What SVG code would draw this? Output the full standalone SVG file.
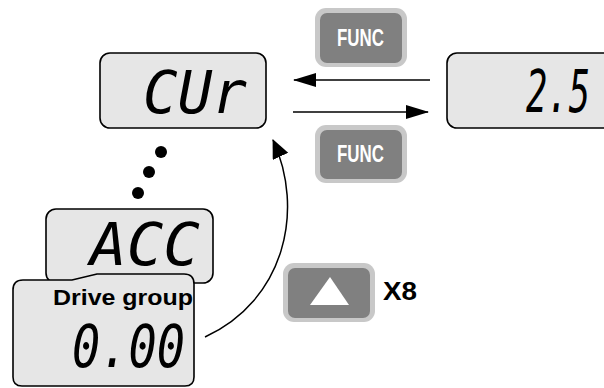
<svg xmlns="http://www.w3.org/2000/svg" width="604" height="388" viewBox="0 0 604 388">
<defs>
<style>
.lcd{fill:#e6e6e6;stroke:#000;stroke-width:1.6}
.seg{font-family:"DejaVu Sans Mono",monospace;font-style:italic;font-size:59px;fill:#000}
.btnO{fill:#c8c8c8}
.btnI{fill:#808080}
.func{font-family:"Liberation Sans",Arial,sans-serif;font-weight:bold;font-size:23px;fill:#fff}
.lbl{font-family:"Liberation Sans",Arial,sans-serif;font-weight:bold;fill:#000}
.ln{stroke:#000;stroke-width:1.5;fill:none}
</style>
<marker id="ah" markerUnits="userSpaceOnUse" markerWidth="24" markerHeight="16" refX="22" refY="7" orient="auto">
<path d="M0,0 L23,7 L0,14 Z" fill="#000"/>
</marker>
<marker id="ah2" markerUnits="userSpaceOnUse" markerWidth="20" markerHeight="20" refX="18" refY="8.5" orient="auto">
<path d="M0,0 L19,8.5 L0,17 Z" fill="#000"/>
</marker>
</defs>
<g id="cur">
<rect class="lcd" x="100" y="53" width="166" height="75" rx="10"/>
<text class="seg" x="143" y="113" textLength="104" lengthAdjust="spacingAndGlyphs">CUr</text>
</g>
<g id="val25">
<rect class="lcd" x="447" y="53" width="170" height="75" rx="10"/>
<text class="seg" x="526" y="112" textLength="64" lengthAdjust="spacingAndGlyphs">2.5</text>
</g>
<g id="func-top">
<rect class="btnO" x="315" y="8" width="92" height="59" rx="11"/>
<rect class="btnI" x="320" y="13" width="82" height="50" rx="7"/>
<text class="func" x="337" y="46" textLength="47" lengthAdjust="spacingAndGlyphs">FUNC</text>
</g>
<g id="func-bottom">
<rect class="btnO" x="315" y="125" width="92" height="58" rx="11"/>
<rect class="btnI" x="320" y="130" width="82" height="49" rx="7"/>
<text class="func" x="337" y="162" textLength="47" lengthAdjust="spacingAndGlyphs">FUNC</text>
</g>
<g id="dots">
<circle cx="161" cy="152" r="6"/>
<circle cx="149" cy="172" r="6"/>
<circle cx="138" cy="193" r="6"/>
</g>
<g id="acc">
<rect class="lcd" x="46" y="209" width="167" height="74" rx="10"/>
<text class="seg" x="90" y="265" textLength="110" lengthAdjust="spacingAndGlyphs">ACC</text>
</g>
<g id="drive">
<path class="lcd" d="M13,290 Q13,280 23,280 L72,280 L97,274 L184,274 Q194,274 194,284 L194,377 Q194,386 185,386 L22,386 Q13,386 13,377 Z"/>
<text class="lbl" x="53" y="305" font-size="22" textLength="140" lengthAdjust="spacingAndGlyphs">Drive group</text>
<text class="seg" x="72" y="367" textLength="113" lengthAdjust="spacingAndGlyphs">0.00</text>
</g>
<g id="up">
<rect class="btnO" x="283" y="263" width="92" height="59" rx="11"/>
<rect class="btnI" x="288" y="268" width="82" height="50" rx="7"/>
<polygon points="310,305 349,305 330,277" fill="#fff"/>
<text class="lbl" x="383" y="300" font-size="25" textLength="34" lengthAdjust="spacingAndGlyphs">X8</text>
</g>
<g id="connectors">
<line class="ln" x1="430" y1="80" x2="294" y2="80" marker-end="url(#ah)"/>
<line class="ln" x1="293" y1="112" x2="428" y2="112" marker-end="url(#ah)"/>
<path class="ln" d="M205,337 C285,300 305,210 273,140" marker-end="url(#ah2)"/>
</g>
</svg>
